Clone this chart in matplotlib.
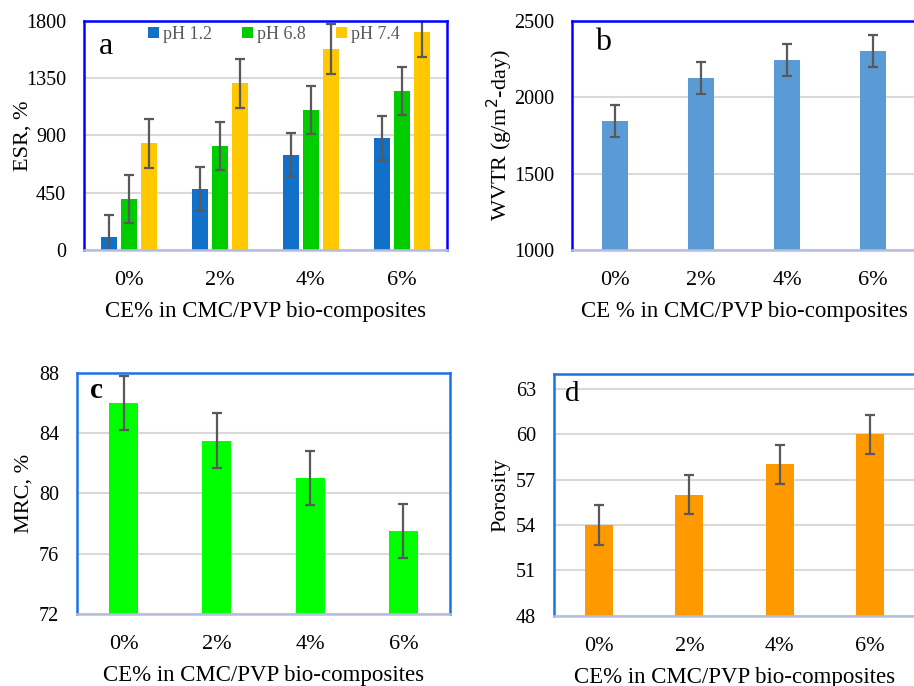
import numpy as np
import matplotlib
matplotlib.use('Agg')
import matplotlib.pyplot as plt

plt.rcParams['font.family'] = ['Liberation Serif', 'DejaVu Serif']

categories = ['0%', '2%', '4%', '6%']

# panel a: ESR, %
esr_ph12 = [105, 478, 748, 879]
esr_ph68 = [399, 816, 1099, 1249]
esr_ph74 = [837, 1309, 1577, 1711]
esr_err12 = [172, 172, 170, 171]
esr_err68 = [190, 189, 189, 189]
esr_err74 = [196, 192, 197, 195]

# panel b: WVTR
wvtr = [1845, 2125, 2245, 2305]
wvtr_err = [104, 104, 104, 104]

# panel c: MRC, %
mrc = [86.0, 83.5, 81.0, 77.5]
mrc_err = [1.8, 1.8, 1.8, 1.8]

# panel d: porosity
porosity = [54.0, 56.0, 58.0, 60.0]
porosity_err = [1.3, 1.3, 1.3, 1.3]

ERR = dict(ecolor='#595959', elinewidth=1.6, capsize=3.8, capthick=1.6, fmt='none')
GRID = '#d9d9d9'


def style_axes(ax, frame_color, ylim, yticks, xlabel, ylabel, ypad):
    ax.set_xlim(-0.5, 3.5)
    ax.set_ylim(*ylim)
    ax.set_yticks(yticks)
    ax.set_xticks(range(4))
    ax.set_xticklabels(categories)
    ax.tick_params(axis='y', length=0, labelsize=14.5, pad=13)
    ax.tick_params(axis='x', length=0, labelsize=16, pad=15)
    ax.yaxis.grid(True, color=GRID, linewidth=1.5)
    ax.set_axisbelow(True)
    for s in ['left', 'top', 'right']:
        ax.spines[s].set_color(frame_color)
        ax.spines[s].set_linewidth(1.8)
    ax.spines['bottom'].set_color('#b8bce0')
    ax.spines['bottom'].set_linewidth(1.8)
    ax.set_xlabel(xlabel, fontsize=16.5, labelpad=8)
    ax.set_ylabel(ylabel, fontsize=16, labelpad=ypad)


fig = plt.figure(figsize=(9.14, 6.86), dpi=100)

# a
ax = fig.add_axes([0.0919, 0.6356, 0.3972, 0.3338])
x = np.arange(4)
w = 0.175
off = 0.22
ax.bar(x - off, esr_ph12, w, color='#1170c8', label='pH 1.2')
ax.bar(x, esr_ph68, w, color='#00cc00', label='pH 6.8')
ax.bar(x + off, esr_ph74, w, color='#ffc800', label='pH 7.4')
ax.errorbar(x - off, esr_ph12, yerr=esr_err12, **ERR)
ax.errorbar(x, esr_ph68, yerr=esr_err68, **ERR)
ax.errorbar(x + off, esr_ph74, yerr=esr_err74, **ERR)
style_axes(ax, '#0000ff', (0, 1800), [0, 450, 900, 1350, 1800],
           'CE% in CMC/PVP bio-composites', 'ESR, %', -5)
leg = ax.legend(loc='upper left', bbox_to_anchor=(0.132, 1.05), ncol=3, frameon=False,
                fontsize=13, handlelength=0.6, handleheight=0.6, handletextpad=0.2,
                columnspacing=1.7, labelcolor='#595959')
ax.text(0.04, 0.95, 'a', transform=ax.transAxes, fontsize=23, va='top')

# b
ax = fig.add_axes([0.6258, 0.6356, 0.3764, 0.3338])
ax.bar(x, wvtr, 0.31, color='#5b9bd5', bottom=0)
ax.errorbar(x, wvtr, yerr=wvtr_err, **ERR)
style_axes(ax, '#0000ff', (1000, 2500), [1000, 1500, 2000, 2500],
           'CE % in CMC/PVP bio-composites', 'WVTR (g/m$^2$-day)', -1)
ax.text(0.067, 0.97, 'b', transform=ax.transAxes, fontsize=23, va='top')

# c
ax = fig.add_axes([0.0842, 0.1050, 0.4081, 0.3518])
ax.bar(x, mrc, 0.31, color='#00ff00')
ax.errorbar(x, mrc, yerr=mrc_err, **ERR)
style_axes(ax, '#1a73e8', (72, 88), [72, 76, 80, 84, 88],
           'CE% in CMC/PVP bio-composites', 'MRC, %', 4)
ax.text(0.035, 0.98, 'c', transform=ax.transAxes, fontsize=21, fontweight='bold', va='top')

# d
ax = fig.add_axes([0.6061, 0.1025, 0.3950, 0.3528])
ax.bar(x, porosity, 0.31, color='#ff9900')
ax.errorbar(x, porosity, yerr=porosity_err, **ERR)
style_axes(ax, '#1a73e8', (48, 64), [48, 51, 54, 57, 60, 63],
           'CE% in CMC/PVP bio-composites', 'Porosity', 4)
ax.text(0.03, 0.97, 'd', transform=ax.transAxes, fontsize=21, va='top')

fig.savefig('out.png', dpi=100)
